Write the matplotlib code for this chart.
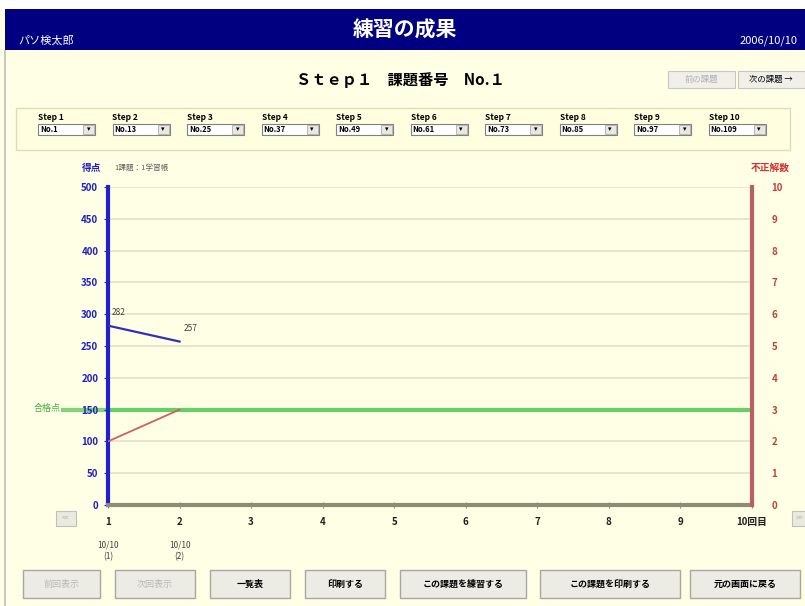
import matplotlib
matplotlib.use("Agg")
import matplotlib.pyplot as plt
from matplotlib.patches import Rectangle
from matplotlib.lines import Line2D

plt.rcParams['font.family'] = ['Noto Sans CJK JP', 'DejaVu Sans']

# ---- data ----
attempts = list(range(1, 11))
attempt_labels = ['1', '2', '3', '4', '5', '6', '7', '8', '9', '10回目']
score_x = [1, 2]
scores = [282, 257]
wrong_x = [1, 2]
wrong_counts = [2, 3]
pass_score = 150
date_labels = ['10/10\n(1)', '10/10\n(2)']
score_ticks = [0, 50, 100, 150, 200, 250, 300, 350, 400, 450, 500]
wrong_ticks = [0, 1, 2, 3, 4, 5, 6, 7, 8, 9, 10]
step_names = ['Step 1', 'Step 2', 'Step 3', 'Step 4', 'Step 5',
              'Step 6', 'Step 7', 'Step 8', 'Step 9', 'Step 10']
step_nos = ['No.1', 'No.13', 'No.25', 'No.37', 'No.49',
            'No.61', 'No.73', 'No.85', 'No.97', 'No.109']
bottom_buttons = ['前回表示', '次回表示', '一覧表', '印刷する',
                  'この課題を練習する', 'この課題を印刷する', '元の画面に戻る']
button_enabled = [False, False, True, True, True, True, True]

W, H = 805, 606
BG = '#FFFFE6'
fig = plt.figure(figsize=(W / 100, H / 100), dpi=100)
fig.patch.set_facecolor(BG)


def fx(x):
    return x / W


def fy(y):
    return 1 - y / H


def rect(x0, y0, x1, y1, **kw):
    fig.patches.append(Rectangle((fx(x0), fy(y1)), fx(x1 - x0), (y1 - y0) / H,
                                 transform=fig.transFigure, **kw))


# page border / header
rect(0, 0, W, 9, facecolor='white', edgecolor='none')
rect(5, 9, W, 50, facecolor='#000080', edgecolor='none')
rect(4, 50, 6, H, facecolor='#C8C8C8', edgecolor='none')
fig.text(fx(405), fy(30), '練習の成果', color='white', fontsize=15, fontweight='bold',
         ha='center', va='center')
fig.text(fx(18), fy(41), 'パソ検太郎', color='white', fontsize=8, ha='left', va='center')
fig.text(fx(798), fy(41), '2006/10/10', color='white', fontsize=8, ha='right', va='center')

# step title
fig.text(fx(400), fy(80), 'Ｓｔｅｐ１　課題番号　No.１', color='black', fontsize=11,
         fontweight='bold', ha='center', va='center')
# prev / next buttons
rect(668, 71, 735, 88, facecolor='#F0F0E8', edgecolor='#C8C8C0', linewidth=0.8)
fig.text(fx(701), fy(79.5), '前の課題', color='#B0B0B0', fontsize=6, ha='center', va='center')
rect(738, 71, 805, 88, facecolor='#F0F0E8', edgecolor='#C8C8C0', linewidth=0.8)
fig.text(fx(771), fy(79.5), '次の課題 →', color='black', fontsize=6, ha='center', va='center')

# steps row
rect(16, 108, 790, 150, facecolor='#FFFFE0', edgecolor='#DCDCC0', linewidth=1)
for i, (sn, no) in enumerate(zip(step_names, step_nos)):
    x0 = 38 + i * 74.5
    fig.text(fx(x0), fy(118), sn, fontsize=6, ha='left', va='center', fontweight='bold')
    rect(x0, 124, x0 + 57, 135, facecolor='white', edgecolor='#808080', linewidth=0.8)
    rect(x0 + 45, 125, x0 + 56, 134, facecolor='#E8E8E0', edgecolor='#A0A0A0', linewidth=0.5)
    fig.text(fx(x0 + 50.5), fy(129.5), '▾', fontsize=5, ha='center', va='center')
    fig.text(fx(x0 + 2), fy(129.5), no, fontsize=5.5, ha='left', va='center', fontweight='bold')

# chart
L, R, T, B = 108, 752, 187, 505
ax = fig.add_axes([fx(L), fy(B), fx(R - L), (B - T) / H])
ax.set_facecolor(BG)
ax.set_xlim(1, 10)
ax.set_ylim(0, 500)
for v in score_ticks[1:]:
    ax.axhline(v, color='#E2E2CC', linewidth=1.2, zorder=0)
ax.plot(score_x, scores, color='#3030C0', linewidth=1.6, zorder=3)
for xv, sv in zip(score_x, scores):
    ax.annotate(str(sv), (xv, sv), xytext=(3, 6), textcoords='offset points',
                fontsize=6, color='#404040', ha='left', va='bottom')
ax.axhline(pass_score, color='#66D066', linewidth=3, zorder=2)
# pass line extending left, behind the tick labels
ypass = ax.transData.transform((1, pass_score))[1]
ypass_fig = fig.transFigure.inverted().transform((0, ypass))[1]
fig.lines.append(Line2D([fx(63), fx(L)], [ypass_fig, ypass_fig], color='#66D066',
                        linewidth=3, alpha=0.85, transform=fig.transFigure, zorder=-1))

ax2 = ax.twinx()
ax2.set_ylim(0, 10)
ax2.plot(wrong_x, wrong_counts, color='#D06060', linewidth=1.3, zorder=3)

for a in (ax, ax2):
    a.spines['top'].set_visible(False)
ax.spines['right'].set_visible(False)
ax2.spines['left'].set_visible(False)
ax2.spines['bottom'].set_visible(False)
ax.spines['left'].set_color('#2020D0')
ax.spines['left'].set_linewidth(3)
ax2.spines['right'].set_color('#B86060')
ax2.spines['right'].set_linewidth(3)
ax.spines['bottom'].set_color('#8C8C78')
ax.spines['bottom'].set_linewidth(3)

ax.set_yticks(score_ticks)
ax.set_yticklabels([str(v) for v in score_ticks], color='#2020C0', fontsize=7,
                   fontweight='bold')
ax.tick_params(axis='y', length=3, color='#2020C0', pad=4)
ax2.set_yticks(wrong_ticks)
ax2.set_yticklabels([str(v) for v in wrong_ticks], color='#C04040', fontsize=7,
                    fontweight='bold')
ax2.tick_params(axis='y', length=0, pad=14)
ax.set_xticks(attempts)
ax.set_xticklabels(attempt_labels, fontsize=7, fontweight='bold', color='#202020')
ax.tick_params(axis='x', direction='inout', length=5, color='#8C8C78', pad=6)

fig.text(fx(92), fy(168), '得点', color='#2020C0', fontsize=7, fontweight='bold',
         ha='center', va='center')
fig.text(fx(114), fy(168), '1課題：1学習帳', color='#606060', fontsize=5.5,
         ha='left', va='center')
fig.text(fx(790), fy(168), '不正解数', color='#D03030', fontsize=7, fontweight='bold',
         ha='right', va='center')
fig.text(fx(47), fy(408), '合格点', color='#40B040', fontsize=6.5, ha='center',
         va='center')

# date labels under attempts
for xv, dl in zip(score_x, date_labels):
    xp = L + (xv - 1) / 9 * (R - L)
    fig.text(fx(xp), fy(551), dl, fontsize=6, ha='center', va='center',
             color='#404040', linespacing=1.3)

# scroll buttons
rect(56, 511, 76, 526, facecolor='#EAEAE0', edgecolor='#C0C0B8', linewidth=0.8)
fig.text(fx(66), fy(518.5), '<<', fontsize=5, color='#B0B0B0', ha='center', va='center')
rect(792, 511, 812, 526, facecolor='#EAEAE0', edgecolor='#C0C0B8', linewidth=0.8)
fig.text(fx(800), fy(518.5), '>>', fontsize=5, color='#B0B0B0', ha='center', va='center')

# bottom buttons
btn_x = [(23, 100), (115, 195), (210, 290), (305, 385), (400, 526), (540, 680), (690, 800)]
for (x0, x1), lbl, en in zip(btn_x, bottom_buttons, button_enabled):
    rect(x0, 570, x1, 598, facecolor='#ECECE4', edgecolor='#A8A8A0', linewidth=1)
    fig.text(fx((x0 + x1) / 2), fy(584), lbl, fontsize=6.5,
             color='black' if en else '#B8B8B8', fontweight='bold' if en else 'normal',
             ha='center', va='center')

fig.savefig('out.png', dpi=100, facecolor=BG)
